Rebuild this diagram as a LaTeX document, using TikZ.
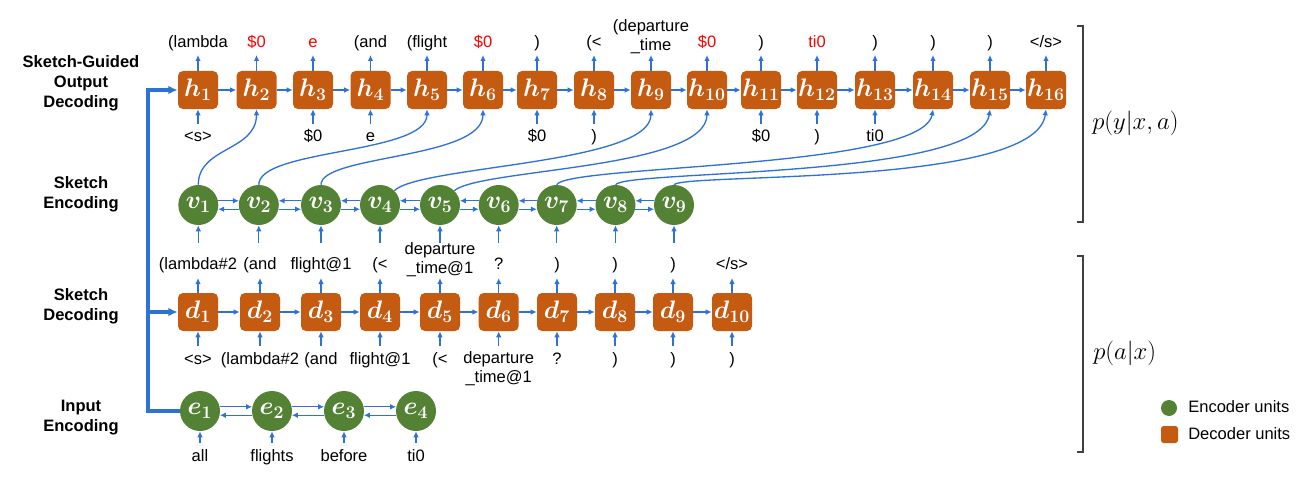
\RequirePackage{fix-cm}
\documentclass[tikz,border=0pt]{standalone}
\usepackage[no-math]{fontspec}
\usepackage{bm}
\newfontfamily\arialf{Liberation Sans}
\usetikzlibrary{arrows.meta}
\definecolor{dec}{HTML}{C55A11}
\definecolor{enc}{HTML}{548235}
\definecolor{conn}{HTML}{2E72D6}
\definecolor{brk}{HTML}{404040}
\definecolor{redt}{HTML}{FF0000}
\begin{document}
\begin{tikzpicture}[x=0.75pt,y=-0.75pt,
  decbox/.style={fill=dec, rounded corners=3.75pt, minimum width=30pt, minimum height=28.5pt, inner sep=0pt, text=white, font=\fontsize{19}{21}\selectfont},
  encnode/.style={circle, fill=enc, minimum size=30pt, inner sep=0pt, text=white, font=\fontsize{19}{21}\selectfont},
  lbl/.style={font=\arialf\fontsize{12.4}{14.5}\selectfont, inner sep=0pt, text height=9pt, text depth=2.5pt},
  lbltwo/.style={font=\arialf\fontsize{12.4}{14.25}\selectfont, inner sep=0pt, align=center},
  redlbl/.style={lbl, text=redt},
  side/.style={font=\arialf\bfseries\fontsize{12.4}{15}\selectfont, align=center, inner sep=0pt},
  arr/.style={draw=conn, line width=1pt, -{Latex[length=4.5pt,width=4.2pt]}},
  bus/.style={draw=conn, line width=2.6pt, -{Latex[length=7pt,width=6.5pt]}},
  bracket/.style={draw=brk, line width=1.5pt},
  mathlbl/.style={font=\fontsize{18.5}{20}\selectfont, inner sep=0pt, anchor=west}
]
\useasboundingbox (0,0) rectangle (1313,485);

% row coordinates
\coordinate (spine) at (148,0);
\coordinate (htip) at (0,55);
\coordinate (hbot) at (0,124);
\coordinate (hlt) at (0,43);
\coordinate (hlb) at (0,137);
\coordinate (vin) at (0,243);
\coordinate (dlt) at (0,265);
\coordinate (dtip) at (0,278);
\coordinate (dbot) at (0,346);
\coordinate (dlb) at (0,360);
\coordinate (ein) at (0,443);
\coordinate (elb) at (0,457);

% side labels
\node[side] (s1) at (81,83.3) {Sketch-Guided\\Output\\Decoding};
\node[side] (s2) at (81,194.7) {Sketch\\Encoding};
\node[side] (s3) at (81,306.7) {Sketch\\Decoding};
\node[side] (s4) at (81,417.3) {Input\\Encoding};

% h row
\foreach \i/\x in {1/198,2/256.5,3/313,4/370.5,5/427,6/483,7/537,8/594,9/651,10/707,11/761,12/817,13/875,14/933,15/990,16/1046}
  \node[decbox] (h\i) at (\x,90) {$\bm{h}_{\bm{\i}}$};
% v row
\foreach \i/\x in {1/198.3,2/258.8,3/321,4/380,5/440,6/498.7,7/556.7,8/615.5,9/674}
  \node[encnode] (v\i) at (\x,205) {$\bm{v}_{\bm{\i}}$};
% d row
\foreach \i/\x in {1/198,2/260,3/321,4/380,5/440,6/498.7,7/557,8/615,9/673,10/732}
  \node[decbox] (d\i) at (\x,312) {$\bm{d}_{\bm{\i}}$};
% e row
\foreach \i/\x in {1/200,2/272,3/344,4/416}
  \node[encnode] (e\i) at (\x,411) {$\bm{e}_{\bm{\i}}$};

% h chain
\foreach \i [count=\j from 2] in {1,...,15}
  \draw[arr] (h\i) -- (h\j);
% d chain
\foreach \i [count=\j from 2] in {1,...,9}
  \draw[arr] (d\i) -- (d\j);
% v chain
\draw[arr] (v1.12) -- (v2.168);
\draw[arr] (v2.192) -- (v1.-12);
\foreach \i [count=\j from 3] in {2,...,8}{
  \draw[arr] (v\j.168) -- (v\i.12);
  \draw[arr] (v\i.-12) -- (v\j.192);
}
% e chain
\foreach \i [count=\j from 2] in {1,...,3}{
  \draw[arr] (e\i.12) -- (e\j.168);
  \draw[arr] (e\j.192) -- (e\i.-12);
}

% h outputs
\foreach \i in {1,...,16}
  \draw[arr] (h\i.north) -- (h\i.north |- htip);
% h inputs
\foreach \i in {1,3,4,7,8,11,12,13}
  \draw[arr] (h\i.south |- hbot) -- (h\i.south);
% v inputs
\foreach \i in {1,...,9}
  \draw[arr] (v\i.south |- vin) -- (v\i.south);
% d outputs / inputs
\foreach \i in {1,...,10}{
  \draw[arr] (d\i.north) -- (d\i.north |- dtip);
  \draw[arr] (d\i.south |- dbot) -- (d\i.south);
}
% e inputs
\foreach \i in {1,...,4}
  \draw[arr] (e\i.south |- ein) -- (e\i.south);

% sketch-to-output curves
\draw[arr] (v1.north) .. controls +(0,-38) and +(0,42) .. (h2.south);
\draw[arr] (v2.north) .. controls +(0,-36) and +(0,45) .. (h5.south);
\draw[arr] (v3.north) .. controls +(0,-30) and +(0,50) .. (h6.south);
\draw[arr] (v4.45) .. controls +(25,-25) and +(0,55) .. (h9.south);
\draw[arr] (v5.45) .. controls +(25,-22) and +(0,60) .. (h10.south);
\draw[arr] (v7.north) .. controls +(10,-20) and +(-10,60) .. (h14.south);
\draw[arr] (v8.north) .. controls +(10,-15) and +(-10,70) .. (h15.south);
\draw[arr] (v9.north) .. controls +(10,-12) and +(-10,78) .. (h16.south);

% input bus
\draw[bus] (e1.west) -- (e1.west -| spine) -- (h1.west -| spine) -- (h1.west);
\draw[bus] (d1.west -| spine) -- (d1.west);

% h top labels
\node[lbl] (ht1) at (h1 |- hlt) {(lambda};
\node[redlbl] (ht2) at (h2 |- hlt) {\$0};
\node[redlbl] (ht3) at (h3 |- hlt) {e};
\node[lbl] (ht4) at (h4 |- hlt) {(and};
\node[lbl] (ht5) at (h5 |- hlt) {(flight};
\node[redlbl] (ht6) at (h6 |- hlt) {\$0};
\node[lbl] (ht7) at (h7 |- hlt) {)};
\node[lbl] (ht8) at (h8 |- hlt) {(<};
\node[lbltwo] (ht9) at (651,36.5) {(departure\\\_time};
\node[redlbl] (ht10) at (h10 |- hlt) {\$0};
\node[lbl] (ht11) at (h11 |- hlt) {)};
\node[redlbl] (ht12) at (h12 |- hlt) {ti0};
\node[lbl] (ht13) at (h13 |- hlt) {)};
\node[lbl] (ht14) at (h14 |- hlt) {)};
\node[lbl] (ht15) at (h15 |- hlt) {)};
\node[lbl] (ht16) at (h16 |- hlt) {</s>};
% h bottom labels
\node[lbl] (hb1) at (h1 |- hlb) {<s>};
\node[lbl] (hb3) at (h3 |- hlb) {\$0};
\node[lbl] (hb4) at (h4 |- hlb) {e};
\node[lbl] (hb7) at (h7 |- hlb) {\$0};
\node[lbl] (hb8) at (h8 |- hlb) {)};
\node[lbl] (hb11) at (h11 |- hlb) {\$0};
\node[lbl] (hb12) at (h12 |- hlb) {)};
\node[lbl] (hb13) at (h13 |- hlb) {ti0};

% d top labels
\node[lbl] (dt1) at (d1 |- dlt) {(lambda\#2};
\node[lbl] (dt2) at (d2 |- dlt) {(and};
\node[lbl] (dt3) at (d3 |- dlt) {flight@1};
\node[lbl] (dt4) at (d4 |- dlt) {(<};
\node[lbltwo] (dt5) at (440,260) {departure\\\_time@1};
\node[lbl] (dt6) at (d6 |- dlt) {?};
\node[lbl] (dt7) at (d7 |- dlt) {)};
\node[lbl] (dt8) at (d8 |- dlt) {)};
\node[lbl] (dt9) at (d9 |- dlt) {)};
\node[lbl] (dt10) at (d10 |- dlt) {</s>};
% d bottom labels
\node[lbl] (db1) at (d1 |- dlb) {<s>};
\node[lbl] (db2) at (d2 |- dlb) {(lambda\#2};
\node[lbl] (db3) at (d3 |- dlb) {(and};
\node[lbl] (db4) at (d4 |- dlb) {flight@1};
\node[lbl] (db5) at (d5 |- dlb) {(<};
\node[lbltwo] (db6) at (498.7,369) {departure\\\_time@1};
\node[lbl] (db7) at (d7 |- dlb) {?};
\node[lbl] (db8) at (d8 |- dlb) {)};
\node[lbl] (db9) at (d9 |- dlb) {)};
\node[lbl] (db10) at (d10 |- dlb) {)};

% e labels
\node[lbl] (eb1) at (e1 |- elb) {all};
\node[lbl] (eb2) at (e2 |- elb) {flights};
\node[lbl] (eb3) at (e3 |- elb) {before};
\node[lbl] (eb4) at (e4 |- elb) {ti0};

% brackets
\draw[bracket] (1077,26) -- (1083.3,26) -- (1083.3,222) -- (1077,222);
\draw[bracket] (1077,256) -- (1083.3,256) -- (1083.3,452) -- (1077,452);
\node[mathlbl] (pyxa) at (1092,123) {$p(y|x,a)$};
\node[mathlbl] (pax) at (1093,353) {$p(a|x)$};

% legend
\node[circle, fill=enc, minimum size=12pt, inner sep=0pt] (legenc) at (1169,408) {};
\node[lbl, anchor=west] (legenct) at (1188,408) {Encoder units};
\node[fill=dec, rounded corners=2pt, minimum size=12.75pt, inner sep=0pt] (legdec) at (1169.5,434.5) {};
\node[lbl, anchor=west] (legdect) at (1188,435) {Decoder units};
\end{tikzpicture}
\end{document}
